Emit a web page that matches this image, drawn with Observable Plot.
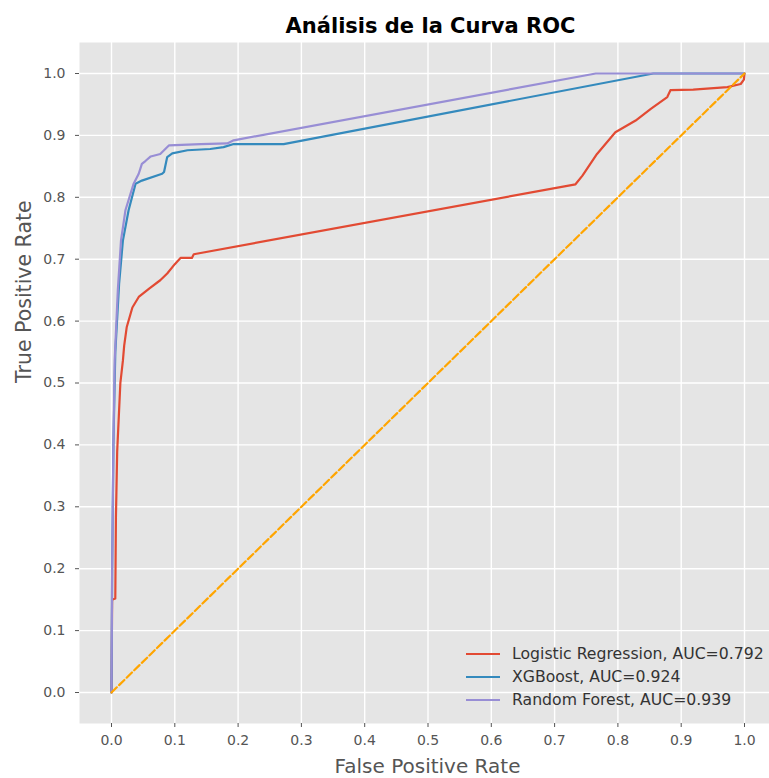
<!DOCTYPE html>
<html>
<head>
<meta charset="utf-8">
<script src="https://cdn.jsdelivr.net/npm/d3@7"></script>
<script src="https://cdn.jsdelivr.net/npm/@observablehq/plot@0.6"></script>
<style>
  html, body { margin: 0; padding: 0; background: white; overflow: hidden; }
  #wrap { position: relative; width: 769px; height: 778px; }
  #legend { position: absolute; left: 466px; top: 642px; font-family: "DejaVu Sans", sans-serif; font-size: 15.7px; color: #333; }
  .row { display: flex; align-items: center; height: 23px; white-space: nowrap; }
  .row svg { margin-right: 12px; }
</style>
</head>
<body>
<div id="wrap"><div id="legend"></div></div>
<script>
// Series names and labels
const seriesNames = ["Logistic Regression, AUC=0.792", "XGBoost, AUC=0.924", "Random Forest, AUC=0.939"];
const seriesColors = ["#E24A33", "#348ABD", "#988ED5"];

// Logistic Regression ROC
const lrFpr = [0, 0.001, 0.006, 0.007, 0.009, 0.014, 0.018, 0.020, 0.024, 0.033, 0.043, 0.060, 0.077, 0.088, 0.100, 0.109, 0.127, 0.130, 0.733, 0.744, 0.767, 0.796, 0.828, 0.852, 0.878, 0.883, 0.919, 0.973, 0.994, 0.999, 1.0];
const lrTpr = [0, 0.150, 0.152, 0.283, 0.390, 0.500, 0.536, 0.560, 0.590, 0.622, 0.639, 0.653, 0.666, 0.677, 0.692, 0.702, 0.702, 0.708, 0.821, 0.835, 0.870, 0.905, 0.924, 0.943, 0.962, 0.973, 0.974, 0.978, 0.983, 0.990, 1.0];

// XGBoost ROC
const xgbFpr = [0, 0.001, 0.003, 0.006, 0.012, 0.018, 0.027, 0.038, 0.048, 0.080, 0.083, 0.088, 0.096, 0.120, 0.156, 0.177, 0.193, 0.272, 0.856, 1.0];
const xgbTpr = [0, 0.200, 0.400, 0.550, 0.660, 0.730, 0.779, 0.822, 0.827, 0.838, 0.841, 0.865, 0.871, 0.876, 0.878, 0.881, 0.886, 0.886, 1.0, 1.0];

// Random Forest ROC
const rfFpr = [0, 0.001, 0.003, 0.005, 0.010, 0.015, 0.022, 0.035, 0.043, 0.048, 0.054, 0.062, 0.077, 0.083, 0.091, 0.141, 0.183, 0.193, 0.765, 1.0];
const rfTpr = [0, 0.200, 0.400, 0.536, 0.650, 0.730, 0.779, 0.822, 0.838, 0.854, 0.859, 0.866, 0.870, 0.876, 0.884, 0.886, 0.887, 0.892, 1.0, 1.0];

// Chance diagonal
const diagX = [0, 1];
const diagY = [0, 1];

// Ticks
const xTicks = [0, 0.1, 0.2, 0.3, 0.4, 0.5, 0.6, 0.7, 0.8, 0.9, 1.0];
const yTicks = [0, 0.1, 0.2, 0.3, 0.4, 0.5, 0.6, 0.7, 0.8, 0.9, 1.0];

const title = "Análisis de la Curva ROC";
const xLabel = "False Positive Rate";
const yLabel = "True Positive Rate";

const toRows = (xs, ys) => xs.map((x, i) => ({x, y: ys[i]}));
const lr = toRows(lrFpr, lrTpr);
const xgb = toRows(xgbFpr, xgbTpr);
const rf = toRows(rfFpr, rfTpr);
const diag = toRows(diagX, diagY);

const chart = Plot.plot({
  width: 769,
  height: 778,
  marginTop: 42,
  marginBottom: 55,
  marginLeft: 79,
  marginRight: 0,
  x: {domain: [-0.05, 1.05], range: [79.35, 775.65]},
  y: {domain: [-0.05, 1.05], range: [722.95, 42.05]},
  style: {fontFamily: "DejaVu Sans, sans-serif", background: "white", overflow: "visible"},
  marks: [
    Plot.frame({fill: "#E5E5E5", stroke: null}),
    Plot.gridX({ticks: xTicks, stroke: "white", strokeOpacity: 1, strokeWidth: 1.4}),
    Plot.gridY({ticks: yTicks, stroke: "white", strokeOpacity: 1, strokeWidth: 1.4}),
    Plot.axisX({ticks: xTicks, tickFormat: d3.format(".1f"), tickSize: 4, tickPadding: 8, color: "#555", fontSize: 14, label: null}),
    Plot.axisY({ticks: yTicks, tickFormat: d3.format(".1f"), tickSize: 4, tickPadding: 10, color: "#555", fontSize: 14, label: null}),
    Plot.line(lr, {x: "x", y: "y", stroke: seriesColors[0], strokeWidth: 2.2}),
    Plot.line(xgb, {x: "x", y: "y", stroke: seriesColors[1], strokeWidth: 2.2}),
    Plot.line(rf, {x: "x", y: "y", stroke: seriesColors[2], strokeWidth: 2.2}),
    Plot.line(diag, {x: "x", y: "y", stroke: "orange", strokeWidth: 2.2, strokeDasharray: "7.4,3.2"}),
    Plot.text([title], {frameAnchor: "top", dx: 6, dy: -16, fontSize: 21, fontWeight: "bold", fill: "black", lineAnchor: "middle"}),
    Plot.text([xLabel], {frameAnchor: "bottom", dx: 3, dy: 43.5, fontSize: 20, fill: "#555", lineAnchor: "middle"}),
    Plot.text([yLabel], {frameAnchor: "left", dx: -55, rotate: -90, fontSize: 20.5, fill: "#555", lineAnchor: "middle"})
  ]
});

const wrap = document.getElementById("wrap");
wrap.insertBefore(chart, wrap.firstChild);

const legend = document.getElementById("legend");
seriesNames.forEach((name, i) => {
  const row = document.createElement("div");
  row.className = "row";
  row.innerHTML = `<svg width="34" height="4"><line x1="0" x2="34" y1="2" y2="2" stroke="${seriesColors[i]}" stroke-width="2.2"/></svg><span>${name}</span>`;
  legend.appendChild(row);
});
</script>
</body>
</html>
